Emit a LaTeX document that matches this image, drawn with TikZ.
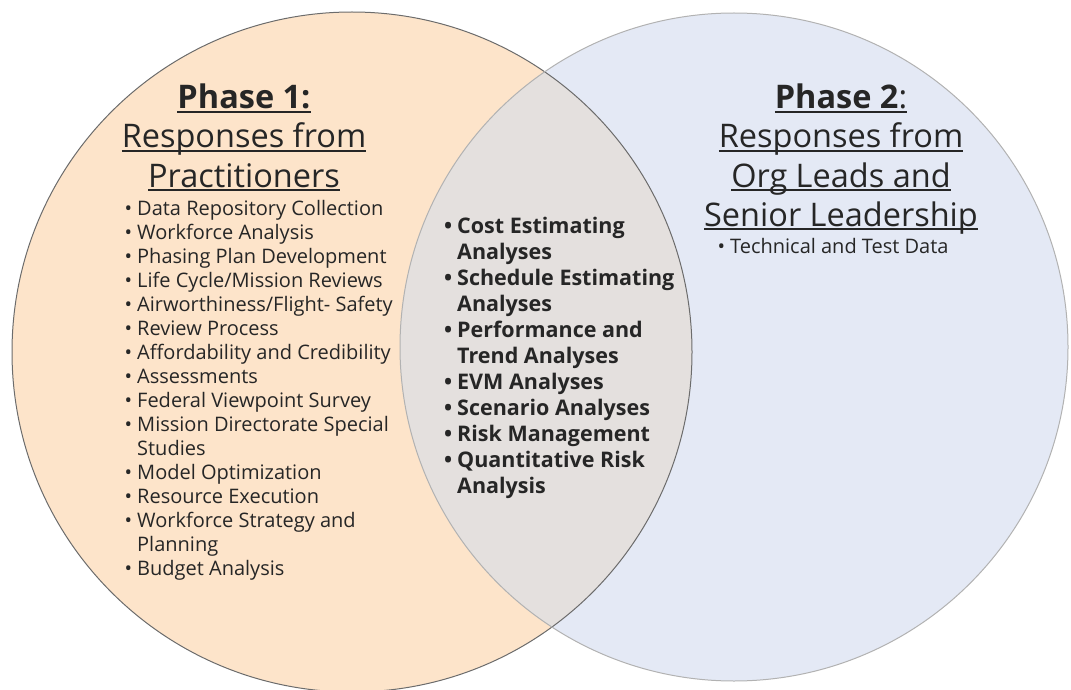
\documentclass[tikz,border=0pt]{standalone}
\usepackage{fontspec}
\setmainfont{Open Sans}
\usepackage{tikz}
\usetikzlibrary{positioning}
\definecolor{peach}{RGB}{253,228,202}
\definecolor{paleblue}{RGB}{228,233,245}
\definecolor{overlap}{RGB}{228,224,222}
\definecolor{inkgray}{RGB}{38,38,38}
\newsavebox\ulbox
\newcommand\uln[1]{\sbox\ulbox{#1}\rlap{\rule[-4pt]{\wd\ulbox}{1.6pt}}\usebox\ulbox}
\newcommand\bl{\llap{\textbullet\hspace{5pt}}}
\tikzset{list node/.style={anchor=base west,inner sep=0pt,text=inkgray,font=\fontsize{20}{24}\selectfont},
	mid node/.style={list node,font=\bfseries\fontsize{21.5}{26}\selectfont},
	head node/.style={anchor=base,inner sep=0pt,text=inkgray,font=\fontsize{32.5}{38}\selectfont},}

\begin{document}
\begin{tikzpicture}[x=1pt,y=-1pt]
	\useasboundingbox (0,0) rectangle (1071,690);
	\coordinate (lc) at (352,352);
	\coordinate (rc) at (734,347);

	% the two sets and their overlap
	\fill[peach] (lc) circle (340pt);
	\fill[paleblue] (rc) circle (334pt);
	\begin{scope}
		\clip (lc) circle (340pt);
		\fill[overlap] (rc) circle (334pt);
	\end{scope}
	\draw[gray!85!black,line width=1pt] (lc) circle (340pt);
	\draw[gray!60,line width=1pt] (rc) circle (334pt);

	% headings
	\foreach \t [count=\i from 0] in {\uln{\textbf{Phase 1:}},\uln{Responses from},\uln{Practitioners}}
		\node[head node] (h1\i) at (244,109+39*\i) {\t};
	\foreach \t [count=\i from 0] in {\uln{\textbf{Phase 2}:},\uln{Responses from},\uln{Org Leads and},\uln{Senior Leadership}}
		\node[head node] (h2\i) at (841,109+39*\i) {\t};

	% phase 1 list
	\foreach \t [count=\i from 0] in {\bl Data Repository Collection,\bl Workforce Analysis,\bl Phasing Plan Development,
		\bl Life Cycle/Mission Reviews,\bl Airworthiness/Flight- Safety,\bl Review Process,
		\bl Affordability and Credibility,\bl Assessments,\bl Federal Viewpoint Survey,
		\bl Mission Directorate Special,Studies,\bl Model Optimization,\bl Resource Execution,
		\bl Workforce Strategy and,Planning,\bl Budget Analysis}
		\node[list node] (p\i) at (137,215+24*\i) {\t};

	% shared list
	\foreach \t [count=\i from 0] in {\bl Cost Estimating,Analyses,\bl Schedule Estimating,Analyses,
		\bl Performance and,Trend Analyses,\bl EVM Analyses,\bl Scenario Analyses,
		\bl Risk Management,\bl Quantitative Risk,Analysis}
		\node[mid node] (m\i) at (457,233+26*\i) {\t};

	% phase 2 list
	\node[list node] (q0) at (730,253) {\bl Technical and Test Data};
\end{tikzpicture}
\end{document}
